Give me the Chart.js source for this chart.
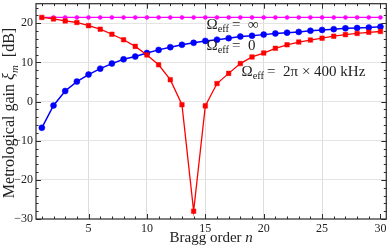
<!DOCTYPE html>
<html>
<head>
<meta charset="utf-8">
<script src="https://cdn.jsdelivr.net/npm/chart.js@4.4.1/dist/chart.umd.min.js"></script>
<style>
html, body { margin: 0; padding: 0; background: #fff; }
</style>
</head>
<body>
<canvas id="gainChart" width="390" height="247"></canvas>
<script>
// Bragg orders and gain curves (dB)
const orders = [1,2,3,4,5,6,7,8,9,10,11,12,13,14,15,16,17,18,19,20,21,22,23,24,25,26,27,28,29,30];
const gainInf = [21.5,21.5,21.5,21.5,21.5,21.5,21.5,21.5,21.5,21.5,21.5,21.5,21.5,21.5,21.5,
                 21.5,21.5,21.5,21.5,21.5,21.5,21.5,21.5,21.5,21.5,21.5,21.5,21.5,21.5,21.5];
const gainZero = [-6.7,-1.0,2.7,5.1,6.9,8.4,9.7,10.8,11.5,12.4,13.2,13.9,14.5,15.0,15.5,
                  15.8,16.2,16.6,16.8,17.1,17.4,17.6,17.8,18.1,18.3,18.5,18.7,18.8,18.9,19.1];
const gain400 = [21.5,21.1,20.6,20.2,19.4,18.5,17.2,15.8,14.1,11.9,9.4,5.6,-0.8,-28.0,-1.1,
                 4.6,7.2,9.7,11.4,12.4,13.6,14.5,15.2,15.7,16.2,16.7,17.1,17.4,17.7,17.9];
const xTicks = [5,10,15,20,25,30];
const yTicks = [-30,-20,-10,0,10,20];

const serif = '"Liberation Serif", "DejaVu Serif", serif';

function pts(vals) {
    return orders.map((n, i) => ({x: n, y: vals[i]}));
}

// draws "Ω_eff = ..." with a real subscript
function drawOmega(ctx, x, y, rest) {
    ctx.textBaseline = 'middle';
    ctx.textAlign = 'left';
    ctx.font = '15px ' + serif;
    ctx.fillText('Ω', x, y);
    let w = ctx.measureText('Ω').width;
    ctx.font = '10.5px ' + serif;
    ctx.fillText('eff', x + w, y + 4);
    w += ctx.measureText('eff').width;
    ctx.font = '15px ' + serif;
    ctx.fillText(rest, x + w + 3, y);
}

const framePlugin = {
    id: 'frame',
    afterDatasetsDraw(chart) {
        const {ctx, chartArea: a, scales: {x, y}} = chart;
        ctx.save();
        ctx.strokeStyle = '#2a2a2a';
        ctx.lineWidth = 1.2;
        ctx.strokeRect(a.left, a.top, a.right - a.left, a.bottom - a.top);

        ctx.lineWidth = 1;
        ctx.beginPath();
        for (let n = 1; n <= 30; n++) {
            const px = Math.round(x.getPixelForValue(n)) + 0.5;
            const len = n % 5 === 0 ? 5 : 2.5;
            ctx.moveTo(px, a.bottom); ctx.lineTo(px, a.bottom - len);
            ctx.moveTo(px, a.top); ctx.lineTo(px, a.top + len);
        }
        for (let v = -30; v <= 24; v += 2) {
            const py = Math.round(y.getPixelForValue(v)) + 0.5;
            const len = v % 10 === 0 ? 5 : 2.5;
            ctx.moveTo(a.left, py); ctx.lineTo(a.left + len, py);
            ctx.moveTo(a.right, py); ctx.lineTo(a.right - len, py);
        }
        ctx.stroke();

        // curve labels
        ctx.fillStyle = '#222';
        drawOmega(ctx, x.getPixelForValue(15.1), y.getPixelForValue(19.5), '=  ∞');
        drawOmega(ctx, x.getPixelForValue(15.1), y.getPixelForValue(14.1), '=  0');
        drawOmega(ctx, x.getPixelForValue(18.1), y.getPixelForValue(7.5), '=  2π × 400 kHz');

        // x title
        ctx.textBaseline = 'alphabetic';
        ctx.textAlign = 'left';
        const t1 = 'Bragg order ';
        ctx.font = '15px ' + serif;
        const w1 = ctx.measureText(t1).width;
        ctx.font = 'italic 15px ' + serif;
        const w2 = ctx.measureText('n').width;
        const cx = (a.left + a.right) / 2;
        const sx = cx - (w1 + w2) / 2;
        ctx.font = '15px ' + serif;
        ctx.fillText(t1, sx, 242);
        ctx.font = 'italic 15px ' + serif;
        ctx.fillText('n', sx + w1, 242);

        // y title, rotated
        ctx.translate(14, 113);
        ctx.rotate(-Math.PI / 2);
        const parts = [
            ['Metrological gain ', '16px ', 0],
            ['ξ', 'italic 16px ', 0],
            ['m', 'italic 11px ', 4],
            ['  [dB]', '16px ', 0]
        ];
        let total = 0;
        parts.forEach(p => { ctx.font = p[1] + serif; total += ctx.measureText(p[0]).width; });
        let px = -total / 2;
        parts.forEach(p => {
            ctx.font = p[1] + serif;
            ctx.fillText(p[0], px, p[2]);
            px += ctx.measureText(p[0]).width;
        });
        ctx.restore();
    }
};

new Chart(document.getElementById('gainChart'), {
    type: 'line',
    data: {
        datasets: [{
            label: 'Ωeff = 2π × 400 kHz',
            data: pts(gain400),
            borderColor: '#ff0000',
            backgroundColor: '#ff0000',
            borderWidth: 1.3,
            pointStyle: 'rect',
            pointRadius: 3.2,
            pointBorderWidth: 0.5,
            pointHoverRadius: 3.2
        }, {
            label: 'Ωeff = 0',
            data: pts(gainZero),
            borderColor: '#0000ff',
            backgroundColor: '#0000ff',
            borderWidth: 1.5,
            pointStyle: 'circle',
            pointRadius: 3,
            pointBorderWidth: 0.5,
            pointHoverRadius: 3
        }, {
            label: 'Ωeff = ∞',
            data: pts(gainInf),
            borderColor: '#ff00ff',
            backgroundColor: '#ff00ff',
            borderWidth: 1.2,
            pointStyle: 'circle',
            pointRadius: 2,
            pointBorderWidth: 0.5,
            pointHoverRadius: 2
        }]
    },
    options: {
        responsive: false,
        animation: false,
        layout: { padding: { top: 2, right: 3, left: 0, bottom: 0 } },
        plugins: {
            legend: { display: false },
            tooltip: { enabled: false }
        },
        scales: {
            x: {
                type: 'linear',
                min: 0.5,
                max: 30.5,
                afterBuildTicks: axis => { axis.ticks = xTicks.map(v => ({value: v})); },
                afterFit: s => { s.height = 28; s.paddingLeft = 0; s.paddingRight = 0; },
                border: { display: false },
                grid: {
                    drawTicks: false,
                    color: c => (c.tick && c.tick.value === 30) ? 'rgba(0,0,0,0)' : '#dcdcdc'
                },
                ticks: {
                    autoSkip: false,
                    maxRotation: 0,
                    padding: 3,
                    color: '#222',
                    font: { family: serif, size: 12 }
                }
            },
            y: {
                min: -30,
                max: 25,
                afterBuildTicks: axis => { axis.ticks = yTicks.map(v => ({value: v})); },
                afterFit: s => { s.width = 36; s.paddingTop = 0; s.paddingBottom = 0; },
                border: { display: false },
                grid: {
                    drawTicks: false,
                    color: c => (c.tick && c.tick.value === -30) ? 'rgba(0,0,0,0)' : '#e4e4e4'
                },
                ticks: {
                    padding: 3,
                    color: '#222',
                    font: { family: serif, size: 12 },
                    callback: v => String(v).replace('-', '\u2212')
                }
            }
        }
    },
    plugins: [framePlugin]
});
</script>
</body>
</html>
